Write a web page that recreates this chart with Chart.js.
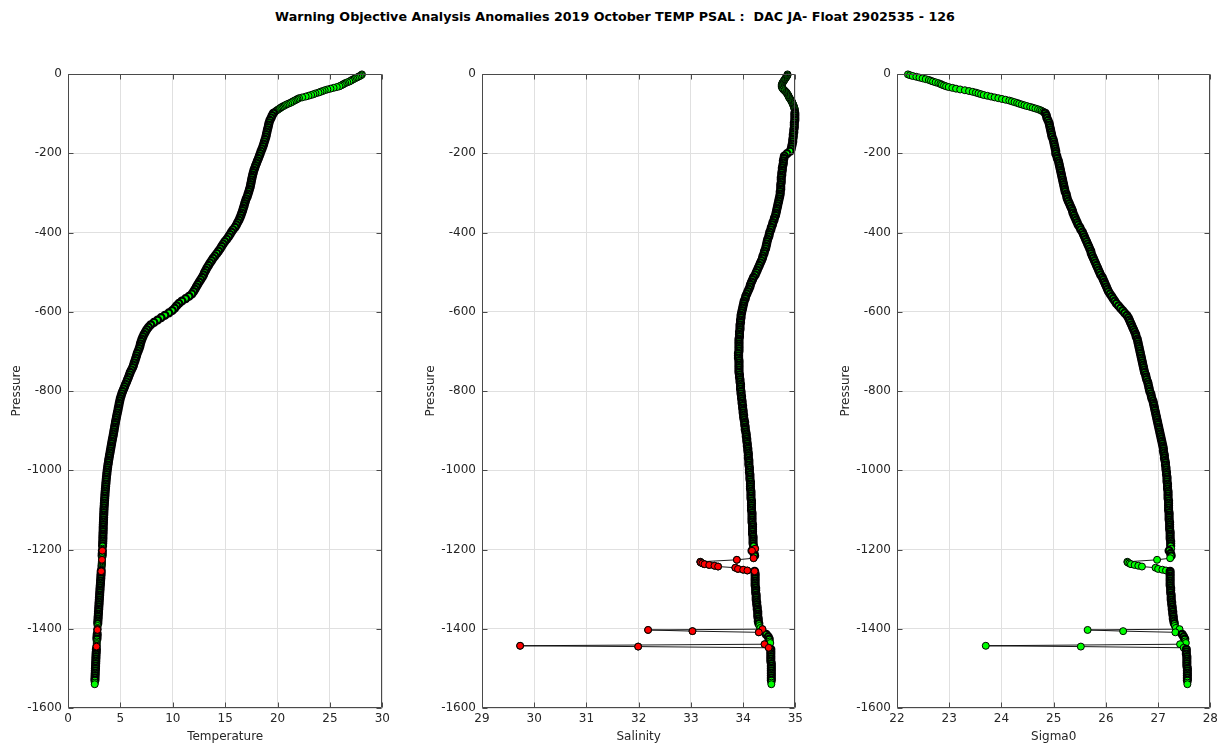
<!DOCTYPE html>
<html>
<head>
<meta charset="utf-8">
<script src="https://cdn.jsdelivr.net/npm/chart.js@4.4.1/dist/chart.umd.min.js"></script>
<style>
  html, body { margin: 0; padding: 0; background: #fff; }
  body { width: 1230px; height: 749px; position: relative; overflow: hidden; }
  #title {
    position: absolute; left: 0; top: 9px; width: 1230px; text-align: center;
    font: bold 12.7px "DejaVu Sans", sans-serif; color: #000; white-space: pre;
  }
  canvas { position: absolute; top: 0; }
</style>
</head>
<body>
<div id="title">Warning Objective Analysis Anomalies 2019 October TEMP PSAL :  DAC JA- Float 2902535 - 126</div>
<canvas id="cTemp" width="394" height="749" style="left:0px"></canvas>
<canvas id="cPsal" width="393" height="749" style="left:414px"></canvas>
<canvas id="cSig" width="393" height="749" style="left:829px"></canvas>
<script>
// Float 2902535, cycle 126 — pressure levels (dbar)
const PRES = [
  1,3,5,7,9,11,13,15,17,19,
  21,23,25,27,29,31,33,35,37,39,
  41,43,45,47,49,51,53,55,57,59,
  61,63,65,67,69,71,73,75,77,79,
  81,83,85,87,89,91,93,95,97,99,
  105,111,117,123,129,135,141,147,153,159,
  165,171,177,183,189,195,201,207,213,219,
  225,231,237,243,249,255,261,267,273,279,
  285,291,297,303,309,315,321,327,333,339,
  345,351,357,363,369,375,381,387,393,399,
  405,411,417,423,429,435,441,447,453,459,
  465,471,477,483,489,495,501,507,513,519,
  525,531,537,543,549,555,561,567,573,579,
  585,591,597,603,609,615,621,627,633,639,
  645,651,657,663,669,675,681,687,693,699,
  705,711,717,723,729,735,741,747,753,759,
  765,771,777,783,789,795,801,807,813,819,
  825,831,837,843,849,855,861,867,873,879,
  885,891,897,903,909,915,921,927,933,939,
  945,951,957,963,969,975,981,987,993,999,
  1005,1011,1017,1023,1029,1035,1041,1047,1053,1059,
  1065,1071,1077,1083,1089,1095,1101,1107,1113,1119,
  1125,1131,1137,1143,1149,1155,1161,1167,1173,1179,
  1185,1191,
  1198,1203,1210,1216,1222,1226,1231,1233,1235,1237,1239,1241,1243,1246,1249,1251,1253,1255,
  1261,1267,1273,1279,1285,1291,1297,1303,1309,1315,1321,1327,1333,1339,1345,1351,1357,1363,1369,1375,1381,1387,1393,
  1398,1401,1403,1406,1409,1414,1420,1426,1432,1436,1439,1443,1445,1448,
  1452,1458,1464,1470,1476,1482,1488,1494,1500,1506,1512,1518,1524,1530,1536,1540
];

// In-situ temperature (degC)
const TEMP = [
  28.05,27.98,27.85,27.70,27.55,27.40,27.25,27.10,26.98,26.85,
  26.65,26.46,26.32,26.20,26.05,25.90,25.65,25.35,25.05,24.75,
  24.50,24.30,24.10,23.90,23.62,23.42,23.20,22.95,22.68,22.35,
  22.05,21.90,21.78,21.62,21.48,21.35,21.20,21.02,20.85,20.70,
  20.56,20.42,20.30,20.20,20.08,19.97,19.86,19.76,19.68,19.60,
  19.48,19.38,19.27,19.19,19.14,19.09,19.03,18.98,18.93,18.88,
  18.81,18.74,18.67,18.60,18.51,18.42,18.34,18.26,18.17,18.08,
  17.99,17.90,17.82,17.74,17.68,17.62,17.57,17.52,17.48,17.43,
  17.39,17.32,17.25,17.18,17.11,17.01,16.93,16.86,16.80,16.73,
  16.66,16.58,16.50,16.41,16.31,16.19,16.07,15.94,15.75,15.60,
  15.46,15.32,15.15,14.97,14.81,14.67,14.53,14.37,14.20,14.02,
  13.85,13.70,13.55,13.41,13.27,13.15,13.03,12.93,12.81,12.66,
  12.52,12.38,12.25,12.12,11.99,11.82,11.55,11.22,10.87,10.58,
  10.37,10.18,9.95,9.62,9.25,8.88,8.55,8.20,7.90,7.68,
  7.52,7.38,7.26,7.15,7.06,6.98,6.91,6.86,6.79,6.70,
  6.61,6.54,6.47,6.40,6.32,6.25,6.17,6.05,5.94,5.86,
  5.77,5.68,5.59,5.49,5.40,5.31,5.21,5.13,5.06,4.99,
  4.94,4.89,4.85,4.80,4.76,4.71,4.66,4.62,4.57,4.53,
  4.49,4.45,4.41,4.37,4.33,4.29,4.24,4.20,4.16,4.12,
  4.08,4.04,4.00,3.96,3.92,3.88,3.85,3.81,3.78,3.75,
  3.72,3.70,3.67,3.65,3.63,3.61,3.59,3.57,3.55,3.53,
  3.52,3.50,3.49,3.47,3.46,3.44,3.43,3.42,3.41,3.40,
  3.39,3.38,3.37,3.36,3.36,3.35,3.34,3.33,3.33,3.32,
  3.31,3.30,
  3.29,3.28,3.27,3.26,3.25,3.24,3.23,3.23,3.22,3.22,3.21,3.21,3.20,3.20,3.19,3.18,3.18,3.17,
  3.16,3.14,3.13,3.11,3.10,3.08,3.06,3.05,3.03,3.02,3.00,2.99,2.97,2.96,2.94,2.93,2.91,2.90,2.88,2.87,2.85,2.84,2.83,
  2.82,2.81,2.81,2.80,2.80,2.79,2.77,2.76,2.75,2.74,2.74,2.73,2.72,2.72,
  2.71,2.70,2.68,2.67,2.66,2.65,2.64,2.63,2.62,2.61,2.60,2.59,2.58,2.57,2.56,2.55
];

// Practical salinity
const PSAL = [
  34.85,34.85,34.84,34.83,34.82,34.81,34.80,34.79,34.78,34.77,
  34.76,34.75,34.75,34.74,34.74,34.74,34.74,34.75,34.76,34.77,
  34.79,34.80,34.82,34.83,34.84,34.85,34.86,34.87,34.87,34.88,
  34.89,34.90,34.91,34.92,34.93,34.94,34.94,34.95,34.96,34.96,
  34.97,34.97,34.98,34.98,34.99,34.99,34.99,34.99,34.99,34.99,
  34.99,34.99,34.99,34.98,34.98,34.98,34.97,34.97,34.96,34.96,
  34.95,34.95,34.94,34.93,34.92,34.90,34.84,34.79,34.78,34.77,
  34.77,34.76,34.75,34.75,34.74,34.74,34.73,34.73,34.73,34.72,
  34.72,34.72,34.71,34.71,34.70,34.69,34.68,34.67,34.66,34.65,
  34.64,34.63,34.62,34.60,34.59,34.57,34.56,34.54,34.53,34.51,
  34.50,34.49,34.47,34.46,34.45,34.44,34.43,34.41,34.40,34.38,
  34.37,34.35,34.33,34.31,34.29,34.27,34.25,34.23,34.20,34.18,
  34.16,34.14,34.13,34.11,34.09,34.07,34.05,34.04,34.02,34.01,
  34.00,33.99,33.98,33.97,33.96,33.96,33.95,33.95,33.94,33.94,
  33.94,33.93,33.93,33.93,33.92,33.92,33.92,33.92,33.92,33.92,
  33.91,33.91,33.91,33.92,33.92,33.92,33.92,33.92,33.92,33.93,
  33.93,33.94,33.94,33.95,33.95,33.95,33.96,33.96,33.97,33.97,
  33.98,33.98,33.99,33.99,34.00,34.00,34.01,34.01,34.02,34.03,
  34.03,34.04,34.04,34.05,34.06,34.06,34.07,34.07,34.08,34.08,
  34.09,34.09,34.10,34.10,34.10,34.11,34.11,34.11,34.12,34.12,
  34.12,34.13,34.13,34.13,34.14,34.14,34.14,34.14,34.15,34.15,
  34.15,34.15,34.16,34.16,34.16,34.16,34.16,34.17,34.17,34.17,
  34.17,34.17,34.18,34.18,34.18,34.18,34.18,34.19,34.19,34.19,
  34.19,34.20,
  34.23,34.17,34.21,34.22,34.20,33.88,33.18,33.19,33.22,33.26,33.35,33.45,33.52,33.85,33.90,34.00,34.08,34.22,
  34.23,34.23,34.23,34.23,34.23,34.23,34.24,34.24,34.24,34.25,34.25,34.25,34.26,34.26,34.27,34.27,34.28,34.28,34.28,34.29,34.29,34.30,34.31,
  34.33,34.37,32.18,33.03,34.30,34.44,34.48,34.50,34.51,34.52,34.41,29.73,31.99,34.49,
  34.53,34.53,34.53,34.53,34.53,34.53,34.54,34.54,34.54,34.54,34.54,34.54,34.54,34.54,34.54,34.54
];

// Potential density anomaly sigma0 (kg/m3)
const SIGMA0 = [
  22.21,22.25,22.30,22.37,22.43,22.49,22.55,22.61,22.65,22.69,
  22.74,22.79,22.83,22.86,22.90,22.94,22.99,23.06,23.13,23.21,
  23.30,23.38,23.45,23.51,23.56,23.61,23.66,23.73,23.80,23.87,
  23.94,24.01,24.08,24.15,24.20,24.25,24.30,24.34,24.39,24.44,
  24.49,24.55,24.60,24.65,24.70,24.74,24.77,24.80,24.82,24.84,
  24.86,24.87,24.89,24.91,24.92,24.93,24.94,24.95,24.96,24.97,
  24.99,25.00,25.01,25.02,25.03,25.04,25.04,25.06,25.07,25.09,
  25.10,25.11,25.12,25.13,25.14,25.15,25.16,25.17,25.18,25.19,
  25.20,25.21,25.22,25.24,25.25,25.26,25.28,25.30,25.32,25.34,
  25.36,25.37,25.39,25.41,25.43,25.45,25.47,25.50,25.52,25.55,
  25.57,25.59,25.61,25.63,25.65,25.67,25.69,25.71,25.72,25.74,
  25.76,25.78,25.80,25.82,25.84,25.86,25.88,25.90,25.93,25.95,
  25.97,25.99,26.01,26.03,26.05,26.08,26.11,26.14,26.17,26.20,
  26.24,26.28,26.32,26.36,26.40,26.43,26.45,26.47,26.49,26.51,
  26.53,26.55,26.57,26.58,26.60,26.61,26.62,26.63,26.64,26.65,
  26.66,26.67,26.68,26.69,26.70,26.71,26.72,26.73,26.74,26.76,
  26.77,26.78,26.80,26.81,26.82,26.83,26.84,26.86,26.87,26.88,
  26.90,26.91,26.92,26.93,26.94,26.95,26.96,26.97,26.98,26.99,
  27.00,27.01,27.02,27.03,27.04,27.05,27.06,27.07,27.08,27.09,
  27.10,27.10,27.11,27.12,27.12,27.13,27.14,27.14,27.15,27.15,
  27.16,27.16,27.17,27.17,27.17,27.18,27.18,27.18,27.19,27.19,
  27.19,27.19,27.20,27.20,27.20,27.20,27.20,27.21,27.21,27.21,
  27.21,27.22,27.22,27.22,27.22,27.23,27.23,27.23,27.23,27.24,
  27.24,27.24,
  27.25,27.21,27.24,27.25,27.23,26.98,26.41,26.42,26.45,26.48,26.55,26.62,26.69,26.95,27.00,27.08,27.15,27.23,
  27.23,27.23,27.23,27.23,27.23,27.23,27.24,27.24,27.24,27.25,27.25,27.25,27.26,27.26,27.27,27.27,27.28,27.28,27.29,27.29,27.30,27.31,27.32,
  27.34,27.41,25.65,26.33,27.33,27.46,27.49,27.51,27.52,27.53,27.42,23.70,25.52,27.49,
  27.54,27.54,27.54,27.55,27.55,27.55,27.55,27.55,27.56,27.56,27.56,27.56,27.56,27.56,27.56,27.56
];

// Levels that failed the objective-analysis check (dbar)
const TEMP_FLAGGED = [1203, 1226, 1255, 1401, 1403, 1443, 1445];
const PSAL_FLAGGED = [1198, 1203, 1222, 1226, 1231, 1233, 1235, 1237, 1239, 1241, 1243,
                      1246, 1249, 1251, 1253, 1255, 1401, 1403, 1406, 1409, 1439, 1443, 1445, 1448];
const SIGMA0_FLAGGED = [];

// Axis ranges: [min, max, step]
const PRES_AXIS = [-1600, 0, 200];
const TEMP_AXIS = [0, 30, 5];
const PSAL_AXIS = [29, 35, 1];
const SIGMA0_AXIS = [22, 28, 1];

const INK = '#262626';
const GRID = '#e0e0e0';
const GOOD = '#00ff00';
const BAD = '#ff0000';
const FONT = { family: '"DejaVu Sans", sans-serif', size: 12 };

// Markers on the coarser deep grid are stacked tightly, so their black
// outlines merge into a solid trace; the finely spaced levels keep thin edges.
function edgeWidth(ctx) {
  const i = ctx.dataIndex;
  const gap = PRES[i + 1] - PRES[i];
  return gap >= 6 ? 2.2 : 1;
}

// Closed axes box with inward tick marks on all four sides
const framePlugin = {
  id: 'frame',
  afterDatasetsDraw(chart) {
    const { ctx, chartArea: a, scales: { x, y } } = chart;
    const L = Math.floor(a.left) + 0.5, R = Math.floor(a.right) - 0.5;
    const T = Math.floor(a.top) + 0.5, B = Math.floor(a.bottom) - 0.5;
    ctx.save();
    ctx.strokeStyle = '#4a4a4a';
    ctx.lineWidth = 1;
    ctx.beginPath();
    ctx.rect(L, T, R - L, B - T);
    x.ticks.forEach(t => {
      const px = Math.round(x.getPixelForValue(t.value)) + 0.5;
      ctx.moveTo(px, B); ctx.lineTo(px, B - 5);
      ctx.moveTo(px, T); ctx.lineTo(px, T + 5);
    });
    y.ticks.forEach(t => {
      const py = Math.round(y.getPixelForValue(t.value)) + 0.5;
      ctx.moveTo(L, py); ctx.lineTo(L + 5, py);
      ctx.moveTo(R, py); ctx.lineTo(R - 5, py);
    });
    ctx.stroke();
    ctx.restore();
  }
};

function makePanel(id, values, flagged, axis, label) {
  const profile = values.map((v, i) => ({ x: v, y: -PRES[i] }));
  const bad = profile.filter((p, i) => flagged.includes(PRES[i]));
  new Chart(document.getElementById(id), {
    type: 'scatter',
    data: {
      datasets: [
        {
          data: bad, order: 0, showLine: false, clip: 8,
          pointStyle: 'circle', pointRadius: 3.4, pointBorderWidth: 1,
          pointBorderColor: '#000', pointBackgroundColor: BAD
        },
        {
          data: profile, order: 1, showLine: true, clip: 8,
          borderColor: '#000', borderWidth: 0.9,
          pointStyle: 'circle', pointRadius: 3.5, pointBorderWidth: edgeWidth,
          pointBorderColor: '#000', pointBackgroundColor: GOOD
        }
      ]
    },
    options: {
      responsive: false, animation: false, events: [],
      layout: { padding: { top: 74, right: 10, left: 0, bottom: 0 } },
      plugins: { legend: { display: false }, tooltip: { enabled: false } },
      scales: {
        x: {
          type: 'linear', position: 'bottom', min: axis[0], max: axis[1],
          afterFit(s) { s.height = 41; },
          ticks: { stepSize: axis[2], padding: 4, color: INK, font: FONT, maxRotation: 0,
                   callback: v => String(v) },
          grid: { color: GRID, drawTicks: false, lineWidth: 1 },
          border: { display: false },
          title: { display: true, text: label, color: INK, font: FONT, padding: { top: 0, bottom: 5 } }
        },
        y: {
          type: 'linear', min: PRES_AXIS[0], max: PRES_AXIS[1],
          afterFit(s) { s.width = 68; },
          ticks: { stepSize: PRES_AXIS[2], padding: 6, color: INK, font: FONT,
                   callback: v => String(v) },
          grid: { color: GRID, drawTicks: false, lineWidth: 1 },
          border: { display: false },
          title: { display: true, text: 'Pressure', color: INK, font: FONT, padding: { top: 10, bottom: 0 } }
        }
      }
    },
    plugins: [framePlugin]
  });
}

makePanel('cTemp', TEMP, TEMP_FLAGGED, TEMP_AXIS, 'Temperature');
makePanel('cPsal', PSAL, PSAL_FLAGGED, PSAL_AXIS, 'Salinity');
makePanel('cSig', SIGMA0, SIGMA0_FLAGGED, SIGMA0_AXIS, 'Sigma0');
</script>
</body>
</html>
